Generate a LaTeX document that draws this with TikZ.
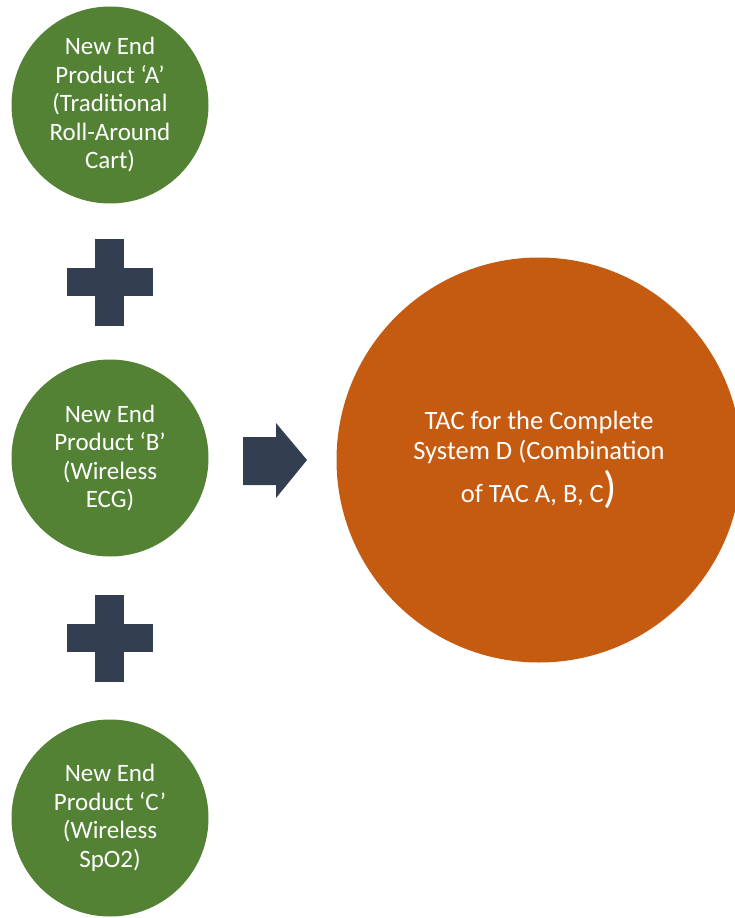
\documentclass[tikz,border=0pt]{standalone}
\usepackage{fontspec}
\setmainfont{Carlito}
\usepackage{xcolor}
\usetikzlibrary{calc}
\definecolor{prodgreen}{HTML}{548235}
\definecolor{sysorange}{HTML}{C55A11}
\definecolor{signnavy}{HTML}{333F50}

\begin{document}
\begin{tikzpicture}[x=1pt,y=-1pt,
  prod/.style={circle,fill=prodgreen,text=white,minimum size=197pt,inner sep=0pt,align=center,font=\fontsize{25}{28.5}\selectfont},
  sys/.style={circle,fill=sysorange,text=white,minimum size=405pt,inner sep=0pt,align=center,font=\fontsize{26.5}{30}\selectfont},
  sign/.style={fill=signnavy}]
  \useasboundingbox (0,0) rectangle (735,918);
  % the three end products
  \node[prod] (pa) at (110,105) {New End\\Product ‘A’\\(Traditional\\Roll-Around\\Cart)};
  \node[prod] (pb) at (110,458) {New End\\Product ‘B’\\(Wireless\\ECG)};
  \node[prod] (pc) at (110,818) {New End\\Product ‘C’\\(Wireless\\SpO2)};
  % complete system
  \node[sys] (sd) at (539,460) {TAC for the Complete\\System D (Combination\\[5pt]of TAC A, B, C{\fontsize{44}{44}\selectfont)}};
  % plus signs
  \foreach \p/\q in {pa/pb,pb/pc} {
    \coordinate (m) at ($(\p)!.5!(\q)$);
    \fill[sign] ($(m)+(-15,-43)$) rectangle ($(m)+(14,44)$);
    \fill[sign] ($(m)+(-43,-14)$) rectangle ($(m)+(43,14)$);
  }
  % block arrow
  \fill[sign] (243,437) -- (276,437) -- (276,423) -- (307,460) -- (276,498) -- (276,485) -- (243,485) -- cycle;
\end{tikzpicture}
\end{document}
